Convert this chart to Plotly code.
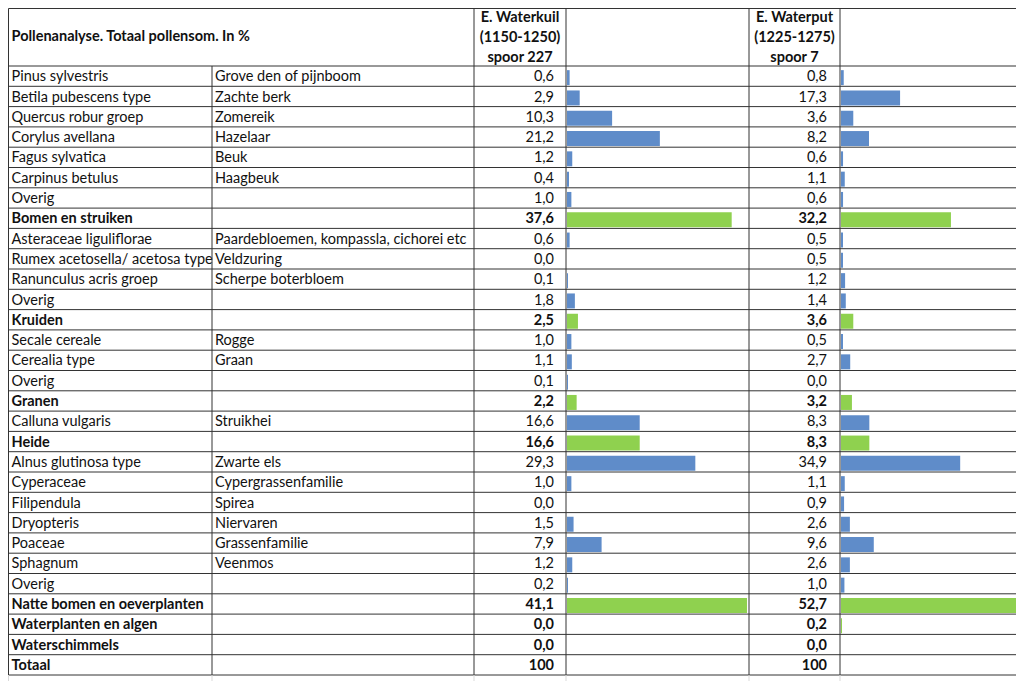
import plotly.graph_objects as go

# pollen data: one entry per table row
latin = ["Pinus sylvestris", "Betila pubescens type", "Quercus robur groep", "Corylus avellana",
         "Fagus sylvatica", "Carpinus betulus", "Overig", "Bomen en struiken",
         "Asteraceae liguliflorae", "Rumex acetosella/ acetosa type", "Ranunculus acris groep",
         "Overig", "Kruiden", "Secale cereale", "Cerealia type", "Overig", "Granen",
         "Calluna vulgaris", "Heide", "Alnus glutinosa type", "Cyperaceae", "Filipendula",
         "Dryopteris", "Poaceae", "Sphagnum", "Overig", "Natte bomen en oeverplanten",
         "Waterplanten en algen", "Waterschimmels", "Totaal"]
dutch = ["Grove den of pijnboom", "Zachte berk", "Zomereik", "Hazelaar", "Beuk", "Haagbeuk",
         "", "", "Paardebloemen, kompassla, cichorei etc", "Veldzuring", "Scherpe boterbloem",
         "", "", "Rogge", "Graan", "", "", "Struikhei", "", "Zwarte els", "Cypergrassenfamilie",
         "Spirea", "Niervaren", "Grassenfamilie", "Veenmos", "", "", "", "", ""]
waterkuil = [0.6, 2.9, 10.3, 21.2, 1.2, 0.4, 1.0, 37.6, 0.6, 0.0, 0.1, 1.8, 2.5, 1.0, 1.1,
             0.1, 2.2, 16.6, 16.6, 29.3, 1.0, 0.0, 1.5, 7.9, 1.2, 0.2, 41.1, 0.0, 0.0, 100]
waterput = [0.8, 17.3, 3.6, 8.2, 0.6, 1.1, 0.6, 32.2, 0.5, 0.5, 1.2, 1.4, 3.6, 0.5, 2.7,
            0.0, 3.2, 8.3, 8.3, 34.9, 1.1, 0.9, 2.6, 9.6, 2.6, 1.0, 52.7, 0.2, 0.0, 100]
group_rows = [7, 12, 16, 18, 26, 27, 28, 29]   # bold rows
total_row = 29
title = "Pollenanalyse. Totaal pollensom. In %"
head_kuil = ["E. Waterkuil", "(1150-1250)", "spoor 227"]
head_put = ["E. Waterput", "(1225-1275)", "spoor 7"]

# sheet geometry in window pixels; the page body adds an 8px margin
W, H, PAD = 1024, 681, 8
TOP, HEAD_BOT, ROW_H = PAD + 0.5, 66, 20.3
COLS = [PAD + 0.5, 212, 474, 566, 749, 840, 1023]
FONT = "Lato"
BLUE, GREEN = "#5f8cc9", "#8fd14f"

n = len(latin)


def row_y(i):
    return HEAD_BOT + ROW_H * (i + 0.5) + 1.5


def fmt(v, i):
    if i == total_row:
        return str(int(v))
    return f"{v:.1f}".replace(".", ",")


def bold(s, i):
    return f"<b>{s}</b>" if (i in group_rows and s) else s


ys = [row_y(i) for i in range(n)]
fig = go.Figure()

# text columns
fig.add_trace(go.Scatter(x=[COLS[0] + 3] * n, y=ys, mode="text", textposition="middle right",
                         text=[bold(s, i) for i, s in enumerate(latin)], hoverinfo="skip"))
fig.add_trace(go.Scatter(x=[COLS[1] + 3] * n, y=ys, mode="text", textposition="middle right",
                         text=dutch, hoverinfo="skip"))
fig.add_trace(go.Scatter(x=[COLS[3] - 12] * n, y=ys, mode="text", textposition="middle left",
                         text=[bold(fmt(v, i), i) for i, v in enumerate(waterkuil)], hoverinfo="skip"))
fig.add_trace(go.Scatter(x=[COLS[5] - 13] * n, y=ys, mode="text", textposition="middle left",
                         text=[bold(fmt(v, i), i) for i, v in enumerate(waterput)], hoverinfo="skip"))

# header
fig.add_trace(go.Scatter(x=[COLS[0] + 3], y=[37], mode="text", textposition="middle right",
                         text=[f"<b>{title}</b>"], hoverinfo="skip"))
hy = [18, 38, 58]
fig.add_trace(go.Scatter(x=[(COLS[2] + COLS[3]) / 2] * 3, y=hy, mode="text", textposition="middle center",
                         text=[f"<b>{s}</b>" for s in head_kuil], hoverinfo="skip"))
fig.add_trace(go.Scatter(x=[(COLS[4] + COLS[5]) / 2] * 3, y=hy, mode="text", textposition="middle center",
                         text=[f"<b>{s}</b>" for s in head_put], hoverinfo="skip"))

# data bars (Totaal has none)
bar_colors = [GREEN if i in group_rows else BLUE for i in range(total_row)]
fig.add_trace(go.Bar(x=waterkuil[:total_row], y=ys[:total_row], orientation="h", width=15,
                     marker=dict(color=bar_colors, line_width=0), xaxis="x2", yaxis="y",
                     hoverinfo="skip"))
fig.add_trace(go.Bar(x=waterput[:total_row], y=ys[:total_row], orientation="h", width=15,
                     marker=dict(color=bar_colors, line_width=0), xaxis="x3", yaxis="y",
                     hoverinfo="skip"))

# cell borders
shapes = []
line = dict(color="#333333", width=1)
grid = dict(color="#d9d9d9", width=1)
bounds = [TOP, HEAD_BOT] + [HEAD_BOT + ROW_H * (k + 1) for k in range(n)]
bottom = bounds[-1]
for yb in bounds:
    shapes.append(dict(type="line", xref="x", yref="y", x0=COLS[0], x1=COLS[-1], y0=yb, y1=yb, line=line))
for j, xc in enumerate(COLS):
    y0 = HEAD_BOT if j == 1 else TOP
    shapes.append(dict(type="line", xref="x", yref="y", x0=xc, x1=xc, y0=y0, y1=bottom, line=line))
    shapes.append(dict(type="line", xref="x", yref="y", x0=xc, x1=xc, y0=bottom, y1=H, line=grid))

ax = dict(visible=False, showgrid=False, zeroline=False, fixedrange=True)
fw, fh = W - PAD, H - PAD
fig.update_layout(
    width=fw, height=fh, margin=dict(l=0, r=0, t=0, b=0),
    paper_bgcolor="white", plot_bgcolor="white", showlegend=False,
    font=dict(family=FONT, size=14.5, color="#111111"),
    shapes=shapes,
    xaxis=dict(range=[PAD, W], domain=[0, 1], **ax),
    yaxis=dict(range=[H, PAD], domain=[0, 1], **ax),
    xaxis2=dict(range=[0, (COLS[4] - COLS[3] - 1) / 4.38],
                domain=[(COLS[3] + 1 - PAD) / fw, (COLS[4] - PAD) / fw], anchor="y", **ax),
    xaxis3=dict(range=[0, (COLS[6] - COLS[5] - 1) / 3.415],
                domain=[(COLS[5] + 1 - PAD) / fw, (COLS[6] - PAD) / fw], anchor="y", **ax),
)

fig.write_html("out.html")
